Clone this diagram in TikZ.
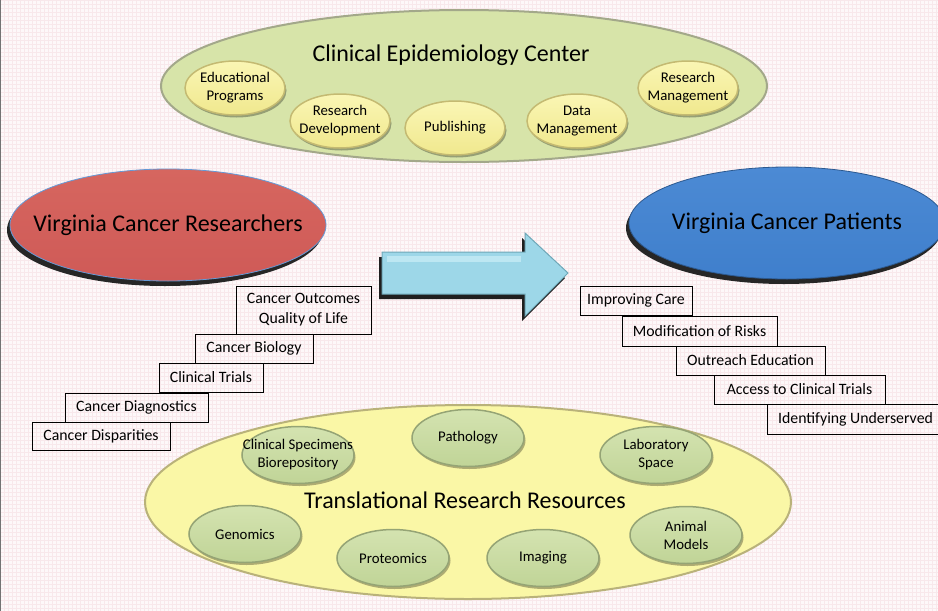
\documentclass[tikz,border=0pt]{standalone}
\usepackage{fontspec}
\setmainfont{Carlito}
\usetikzlibrary{shapes.geometric,shadows}
\definecolor{bgc}{HTML}{FDF8F9}
\definecolor{gridc}{HTML}{F8E8EB}
\definecolor{topgreen}{HTML}{D7E4A9}
\definecolor{topgreenrim}{HTML}{A3A88A}
\definecolor{yellight}{HTML}{FAF6B4}
\definecolor{yeldark}{HTML}{F0E88E}
\definecolor{yelrim}{HTML}{C4BA72}
\definecolor{redc}{HTML}{CF5A57}
\definecolor{redtop}{HTML}{D6665F}
\definecolor{bluec}{HTML}{3F7FCC}
\definecolor{bluetop}{HTML}{4C8AD4}
\definecolor{arrowc}{HTML}{9DD7E8}
\definecolor{arrowlight}{HTML}{BDE7F2}
\definecolor{arrowrim}{HTML}{6FA8B8}
\definecolor{botyel}{HTML}{FAF7A6}
\definecolor{botyelrim}{HTML}{B9B27A}
\definecolor{greenlight}{HTML}{D4E3B0}
\definecolor{greendark}{HTML}{C0D497}
\definecolor{greenrim}{HTML}{95A475}
\begin{document}
\begin{tikzpicture}[x=1pt,y=-1pt,
  bigfont/.style={font=\fontsize{24}{28}\selectfont},
  smallfont/.style={font=\fontsize{14.8}{18}\selectfont},
  boxfont/.style={font=\fontsize{15.8}{20}\selectfont},
  bigell/.style={ellipse, inner sep=0pt, line width=1.2pt},
  smallshadow/.style={drop shadow={shadow xshift=1.5pt, shadow yshift=-2.5pt, fill=black, opacity=0.3}},
  yelell/.style={ellipse, inner sep=0pt, minimum width=100, minimum height=54,
    top color=yellight, bottom color=yeldark, draw=yelrim, line width=1.5pt, smallshadow},
  grnell/.style={ellipse, inner sep=0pt, minimum width=112, minimum height=57,
    top color=greenlight, bottom color=greendark, draw=greenrim, line width=1.5pt, smallshadow},
  etext/.style={align=center, smallfont, inner sep=0pt},
  heroell/.style={ellipse, inner sep=0pt, minimum width=316, minimum height=112,
    line width=0.8pt,
    drop shadow={shadow xshift=-3pt, shadow yshift=-5pt, fill=black!85, opacity=1}},
  stepbox/.style={rectangle, draw=black, line width=0.7pt, inner sep=0pt,
    minimum height=29, align=center, boxfont}
]
\useasboundingbox (0,0) rectangle (938,611);
\clip (0,0) rectangle (938,611);
\fill[bgc] (0,0) rectangle (938,611);
\foreach \gx in {0,4,...,936} {\draw[gridc, line width=0.3pt] (\gx,0) -- (\gx,611);}
\foreach \gy in {0,4,...,610} {\draw[gridc, line width=0.3pt] (0,\gy) -- (938,\gy);}
\draw[black!55, line width=1pt] (0.5,0) -- (0.5,611);

% top ellipse
\node[bigell, fill=topgreen, draw=topgreenrim, line width=2pt,
  minimum width=606, minimum height=152] (cec) at (464,86) {};
\node[bigfont] (cect) at (451,55) {Clinical Epidemiology Center};
\node[yelell] (edu) at (235,88) {};
\node[etext] (edut) at (edu) {Educational\\Programs};
\node[yelell] (rdev) at (340,121) {};
\node[etext] (rdevt) at (rdev) {Research\\Development};
\node[yelell] (pub) at (455,128) {};
\node[etext] (pubt) at (pub) {Publishing};
\node[yelell] (dman) at (577,121) {};
\node[etext] (dmant) at (dman) {Data\\Management};
\node[yelell] (rman) at (688,88) {};
\node[etext] (rmant) at (rman) {Research\\Management};

% hero ellipses
\node[heroell, top color=redtop, bottom color=redc, draw=bluec!80] (vcr) at (168,225) {};
\node[bigfont] (vcrt) at (vcr) {Virginia Cancer Researchers};
\node[heroell, top color=bluetop, bottom color=bluec, draw=bluec!70!black] (vcp) at (787,223) {};
\node[bigfont] (vcpt) at (vcp) {Virginia Cancer Patients};

% arrow
\fill[black!88] ([shift={(-3,5)}]382,252) -- ++(143,0) -- ++(0,-19) -- ++(43,40) -- ++(-43,43) -- ++(0,-22) -- ++(-143,0) -- cycle;
\fill[arrowc, draw=arrowrim, line width=1pt] (382,252) -- (525,252) -- (525,233) -- (568,273) -- (525,316) -- (525,294) -- (382,294) -- cycle;
\fill[arrowlight] (387,256) -- (521,256) -- (521,262) -- (387,262) -- cycle;

% bottom ellipse
\node[bigell, fill=botyel, draw=botyelrim, line width=2pt,
  minimum width=646, minimum height=194] (trr) at (468,502) {};
\node[bigfont] (trrt) at (465,500) {Translational Research Resources};
\node[grnell] (spec) at (298,455) {};
\node[etext] (spect) at (spec) {Clinical Specimens\\Biorepository};
\node[grnell] (path) at (468,438) {};
\node[etext] (patht) at (path) {Pathology};
\node[grnell] (lab) at (656,455) {};
\node[etext] (labt) at (lab) {Laboratory\\Space};
\node[grnell] (gen) at (245,534) {};
\node[etext] (gent) at (gen) {Genomics};
\node[grnell] (prot) at (393,558) {};
\node[etext] (prott) at (prot) {Proteomics};
\node[grnell] (img) at (543,558) {};
\node[etext] (imgt) at (img) {Imaging};
\node[grnell] (anim) at (686,535) {};
\node[etext] (animt) at (anim) {Animal\\Models};

% left boxes
\node[stepbox, minimum width=135, minimum height=48] (co) at (303.5,310) {Cancer Outcomes\\Quality of Life};
\node[stepbox, minimum width=118] (cb) at (254,348.5) {Cancer Biology};
\node[stepbox, minimum width=104] (ct) at (211,377.5) {Clinical Trials};
\node[stepbox, minimum width=143] (cd) at (136.5,407.5) {Cancer Diagnostics};
\node[stepbox, minimum width=138, minimum height=28] (cdp) at (101,436) {Cancer Disparities};

% right boxes
\node[stepbox, minimum width=112] (ic) at (636,300.5) {Improving Care};
\node[stepbox, minimum width=155, minimum height=30] (mr) at (699.5,331) {Modification of Risks};
\node[stepbox, minimum width=149] (oe) at (750.5,360.5) {Outreach Education};
\node[stepbox, minimum width=171] (act) at (799.5,389.5) {Access to Clinical Trials};
\node[stepbox, minimum width=177, minimum height=30] (iu) at (855.5,419) {Identifying Underserved};
\end{tikzpicture}
\end{document}
